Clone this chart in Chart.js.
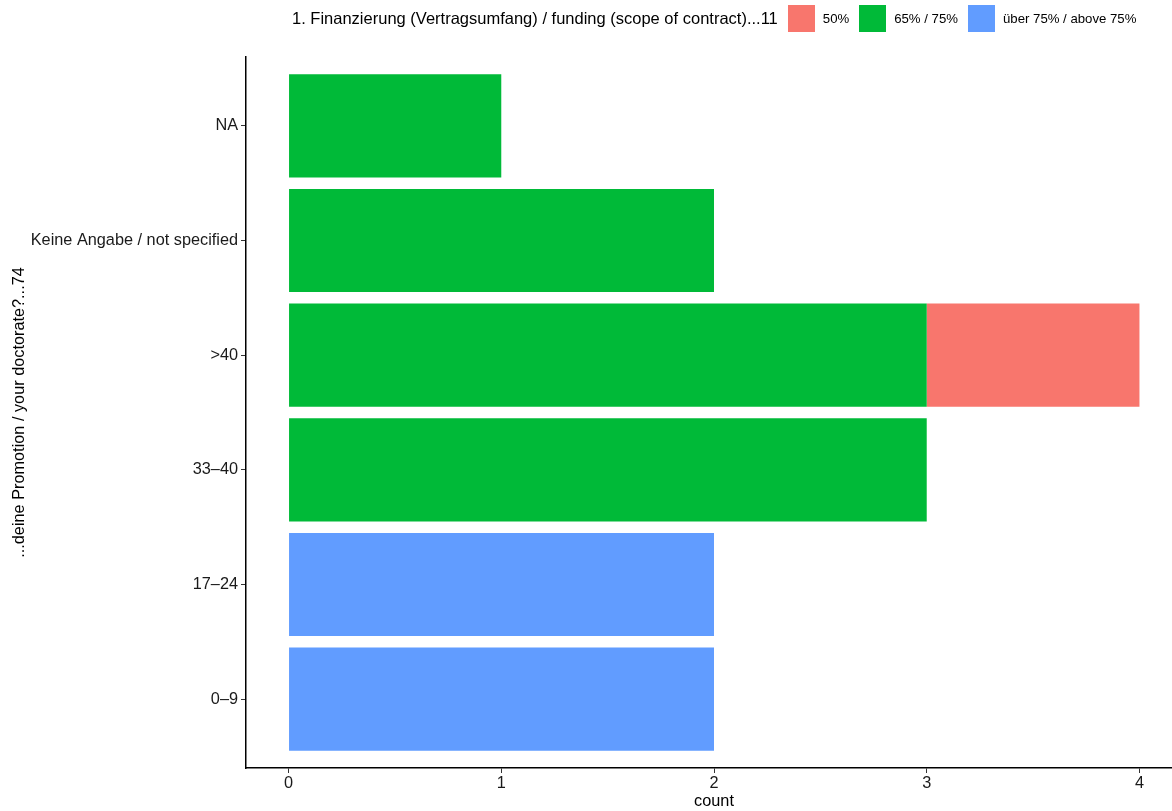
<!DOCTYPE html>
<html>
<head>
<meta charset="utf-8">
<script src="https://cdn.jsdelivr.net/npm/chart.js@4"></script>
<style>
  html, body { margin: 0; padding: 0; overflow: hidden; background: #fff; }
  #wrap { position: relative; width: 1182px; height: 811px; }
  #legend {
    position: absolute; left: 292px; top: 0; height: 37px;
    display: flex; align-items: center;
    font-family: "Liberation Sans", Arial, sans-serif; color: #000;
  }
  #legend .ttl { font-size: 16.5px; margin-right: 10px; }
  #legend .box { width: 27px; height: 27px; margin-right: 8px; }
  #legend .lab { font-size: 13.2px; margin-right: 10px; }
</style>
</head>
<body>
<div id="wrap">
  <div id="legend"></div>
  <canvas id="myChart" width="1182" height="811"></canvas>
</div>
<script>
// categories, bottom to top
const categories = ["0–9", "17–24", "33–40", ">40", "Keine Angabe / not specified", "NA"];

const legendTitle = "1. Finanzierung (Vertragsumfang) / funding (scope of contract)...11";
const seriesNames = ["50%", "65% / 75%", "über 75% / above 75%"];
const seriesColors = ["#F8766D", "#00BA38", "#619CFF"];

// counts per category (same order as categories)
const val50 = [0, 0, 0, 1, 0, 0];
const val6575 = [0, 0, 3, 3, 2, 1];
const valAbove75 = [2, 2, 0, 0, 0, 0];

const xTicks = [0, 1, 2, 3, 4];

// html legend
const leg = document.getElementById("legend");
leg.innerHTML = '<span class="ttl">' + legendTitle + '</span>' +
  seriesNames.map((n, i) =>
    '<span class="box" style="background:' + seriesColors[i] + '"></span><span class="lab">' + n + '</span>'
  ).join("");

function toPoints(vals) {
  return vals.map((v, i) => ({ x: v, y: i })).filter(p => p.x > 0);
}

const font = { family: "'Liberation Sans', Arial, sans-serif", size: 16.3 };

const ctx = document.getElementById("myChart");
const myChart = new Chart(ctx, {
  type: 'bar',
  data: {
    datasets: [
      { label: seriesNames[1], data: toPoints(val6575), backgroundColor: seriesColors[1] },
      { label: seriesNames[0], data: toPoints(val50), backgroundColor: seriesColors[0] },
      { label: seriesNames[2], data: toPoints(valAbove75), backgroundColor: seriesColors[2] }
    ]
  },
  options: {
    indexAxis: 'y',
    responsive: false,
    animation: false,
    borderWidth: 0,
    barPercentage: 0.9,
    categoryPercentage: 1,
    layout: { padding: { top: 57, left: 0, right: 0, bottom: 0 } },
    plugins: {
      legend: { display: false },
      tooltip: { enabled: false }
    },
    scales: {
      x: {
        type: 'linear',
        stacked: true,
        min: -0.2,
        max: 4.2,
        afterBuildTicks: s => { s.ticks = xTicks.map(v => ({ value: v })); },
        afterFit: s => { s.height = 43; },
        ticks: { color: "#1A1A1A", font: font, padding: 1 },
        grid: { drawOnChartArea: false, tickLength: 5, tickColor: "#333", tickWidth: 1 },
        border: { color: "#000", width: 1.5 },
        title: { display: true, text: "count", color: "#000", font: font, padding: { top: 0, bottom: 0 } }
      },
      y: {
        type: 'linear',
        stacked: true,
        offset: false,
        min: -0.6,
        max: 5.6,
        afterBuildTicks: s => { s.ticks = categories.map((c, i) => ({ value: i })); },
        afterFit: s => { s.width = 246; },
        ticks: {
          color: "#1A1A1A", font: font, padding: 3,
          callback: v => categories[v]
        },
        grid: { offset: false, drawOnChartArea: false, tickLength: 5, tickColor: "#333", tickWidth: 1 },
        border: { color: "#000", width: 1.5 },
        title: { display: true, text: "...deine Promotion / your doctorate?...74", color: "#000", font: font, padding: { top: 10, bottom: 0 } }
      }
    }
  }
});
</script>
</body>
</html>
